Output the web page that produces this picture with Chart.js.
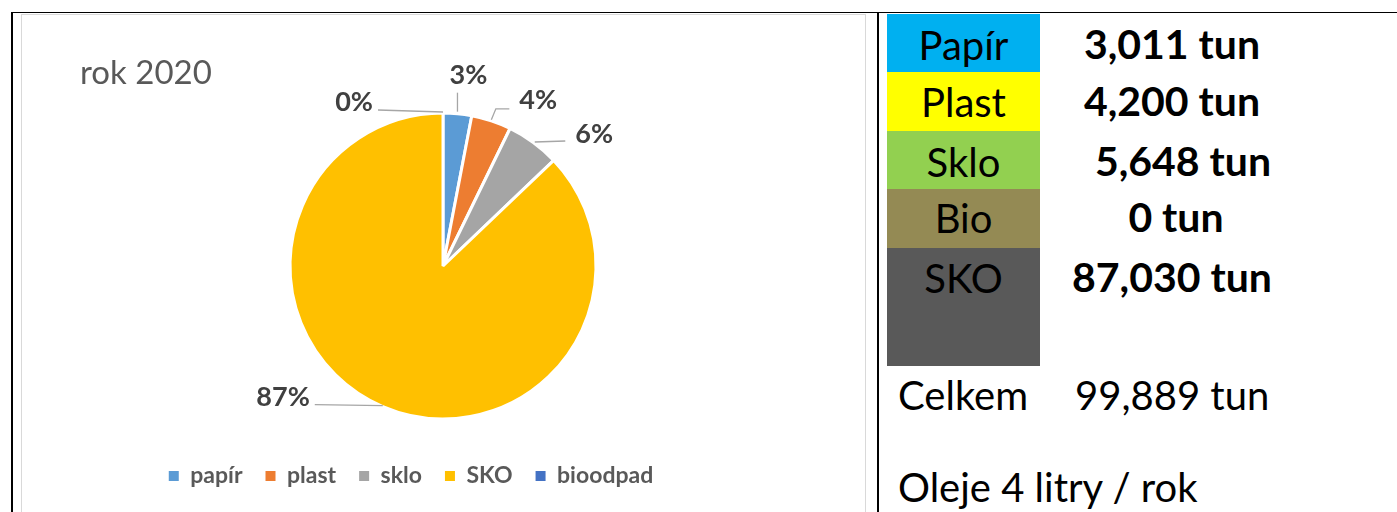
<!DOCTYPE html>
<html>
<head>
<meta charset="utf-8">
<script src="https://cdn.jsdelivr.net/npm/chart.js@4.4.1/dist/chart.umd.min.js"></script>
<style>
  html, body { margin: 0; padding: 0; background: #fff; }
  body { width: 1397px; height: 512px; position: relative; overflow: hidden; font-family: Lato, "Open Sans", sans-serif; }
  .line { position: absolute; background: #000; }
  #frame { position: absolute; left: 21px; top: 14px; width: 845px; height: 520px; box-sizing: border-box; border: 1px solid #D9D9D9; }
  #wrap { position: absolute; left: 22px; top: 15px; width: 842px; height: 497px; }
  .cell { position: absolute; left: 887px; width: 153px; }
  .txt { position: absolute; font-size: 40px; line-height: 48px; white-space: pre; color: #000; }
  .name { left: 887px; width: 153px; text-align: center; font-size: 40px; }
  .val { left: 1060px; width: 224px; text-align: center; font-weight: bold; font-size: 41px; }
</style>
</head>
<body>
<div class="line" style="left:11px;top:12px;width:1386px;height:1px;"></div>
<div class="line" style="left:11px;top:12px;width:2px;height:500px;"></div>
<div class="line" style="left:877px;top:12px;width:2px;height:500px;"></div>
<div id="frame"></div>
<div id="wrap"><canvas id="c" width="842" height="497"></canvas></div>
<div id="table"></div>
<script>
// ---- data ----
const chartTitle = 'rok 2020';
const categories = ['papír', 'plast', 'sklo', 'SKO', 'bioodpad'];
const tonnes = [3.011, 4.200, 5.648, 87.030, 0];
const sliceColors = ['#5B9BD5', '#ED7D31', '#A5A5A5', '#FFC000', '#4472C4'];

const tableNames = ['Papír', 'Plast', 'Sklo', 'Bio', 'SKO'];
const tableValues = [3.011, 4.200, 5.648, 0, 87.030];
const tableColors = ['#00B0F0', '#FFFF00', '#92D050', '#948A54', '#595959'];
const totalLabel = 'Celkem';
const oilNote = 'Oleje 4 litry / rok';

// ---- layout (styling only) ----
const rowTops = [14, 72, 131, 189, 248];
const rowBottoms = [72, 131, 189, 248, 366];
const textTops = [20.5, 77.5, 137.5, 193.5, 253.5];
const valShift = [0, 0, 11, 4, 0];

function fmt(v) {
  if (v === 0) return '0 tun';
  return v.toFixed(3).replace('.', ',') + ' tun';
}

const table = document.getElementById('table');
tableNames.forEach((n, i) => {
  const c = document.createElement('div');
  c.className = 'cell';
  c.style.top = rowTops[i] + 'px';
  c.style.height = (rowBottoms[i] - rowTops[i]) + 'px';
  c.style.background = tableColors[i];
  table.appendChild(c);
  const t = document.createElement('div');
  t.className = 'txt name';
  t.style.top = textTops[i] + 'px';
  t.textContent = n;
  table.appendChild(t);
  const v = document.createElement('div');
  v.className = 'txt val';
  v.style.top = (textTops[i] - 0.4) + 'px';
  v.style.left = (1060 + valShift[i]) + 'px';
  v.textContent = fmt(tableValues[i]);
  table.appendChild(v);
});
const total = tableValues.reduce((a, b) => a + b, 0);
const ct = document.createElement('div');
ct.className = 'txt'; ct.style.left = '898px'; ct.style.top = '370.5px'; ct.textContent = totalLabel;
table.appendChild(ct);
const cv = document.createElement('div');
cv.className = 'txt'; cv.style.left = '1075px'; cv.style.top = '370.5px'; cv.textContent = fmt(total);
table.appendChild(cv);
const on = document.createElement('div');
on.className = 'txt'; on.style.left = '898px'; on.style.top = '462.5px'; on.textContent = oilNote;
table.appendChild(on);

// label placement relative to each slice's outer edge point
const labelLayout = [
  { line: [[0, -2], [0, -21]], text: [11, -30], align: 'center' },
  { line: [[0, -1], [4.5, -12], [18, -12]], text: [28, -12], align: 'left' },
  { line: [[1.5, -0.5], [32, -1.5]], text: [42, 0.5], align: 'left' },
  { line: [[0, -1], [-68, -2]], text: [-73, -0.6], align: 'right' },
  { line: [[0, -1], [-65, -3]], text: [-70, -2], align: 'right' }
];

const labelPlugin = {
  id: 'sliceLabels',
  afterDatasetsDraw(chart) {
    const ctx = chart.ctx;
    const meta = chart.getDatasetMeta(0);
    const data = chart.data.datasets[0].data;
    const sum = data.reduce((a, b) => a + b, 0);
    ctx.save();
    ctx.font = '33px Lato';
    ctx.fillStyle = '#595959';
    ctx.textAlign = 'left';
    ctx.textBaseline = 'alphabetic';
    ctx.fillText(chartTitle, 58, 69);
    meta.data.forEach((arc, i) => {
      const p = arc.getProps(['x', 'y', 'startAngle', 'endAngle', 'outerRadius'], true);
      const mid = (p.startAngle + p.endAngle) / 2;
      const ex = p.x + Math.cos(mid) * p.outerRadius;
      const ey = p.y + Math.sin(mid) * p.outerRadius;
      const cfg = labelLayout[i];
      ctx.strokeStyle = '#A6A6A6';
      ctx.lineWidth = 1.3;
      ctx.beginPath();
      cfg.line.forEach((pt, k) => {
        if (k === 0) ctx.moveTo(ex + pt[0], ey + pt[1]); else ctx.lineTo(ex + pt[0], ey + pt[1]);
      });
      ctx.stroke();
      ctx.font = 'bold 27px Lato';
      ctx.fillStyle = '#404040';
      ctx.textAlign = cfg.align;
      ctx.textBaseline = 'alphabetic';
      ctx.fillText(Math.round(data[i] / sum * 100) + '%', ex + cfg.text[0], ey + cfg.text[1]);
    });
    ctx.restore();
  }
};

new Chart(document.getElementById('c'), {
  type: 'pie',
  data: {
    labels: categories,
    datasets: [{
      data: tonnes,
      backgroundColor: sliceColors,
      borderColor: '#FFFFFF',
      borderWidth: 3,
      radius: 153
    }]
  },
  options: {
    responsive: false,
    animation: false,
    layout: { padding: { top: 75.5, bottom: 14.5, left: 0, right: 64 } },
    plugins: {
      title: { display: false },
      subtitle: {
        display: true,
        position: 'left',
        fullSize: false,
        text: ' ',
        color: 'rgba(0,0,0,0)',
        font: { size: 10, lineHeight: 1.2 },
        padding: 26
      },
      tooltip: { enabled: false },
      legend: {
        position: 'bottom',
        labels: {
          boxWidth: 10,
          boxHeight: 10,
          padding: 23,
          color: '#595959',
          font: { family: 'Lato', size: 23, weight: 'bold' },
          generateLabels(chart) {
            const items = Chart.overrides.pie.plugins.legend.labels.generateLabels(chart);
            return items.map(it => Object.assign({}, it, { strokeStyle: it.fillStyle, lineWidth: 0, hidden: false }));
          }
        }
      }
    }
  },
  plugins: [labelPlugin]
});
</script>
</body>
</html>
